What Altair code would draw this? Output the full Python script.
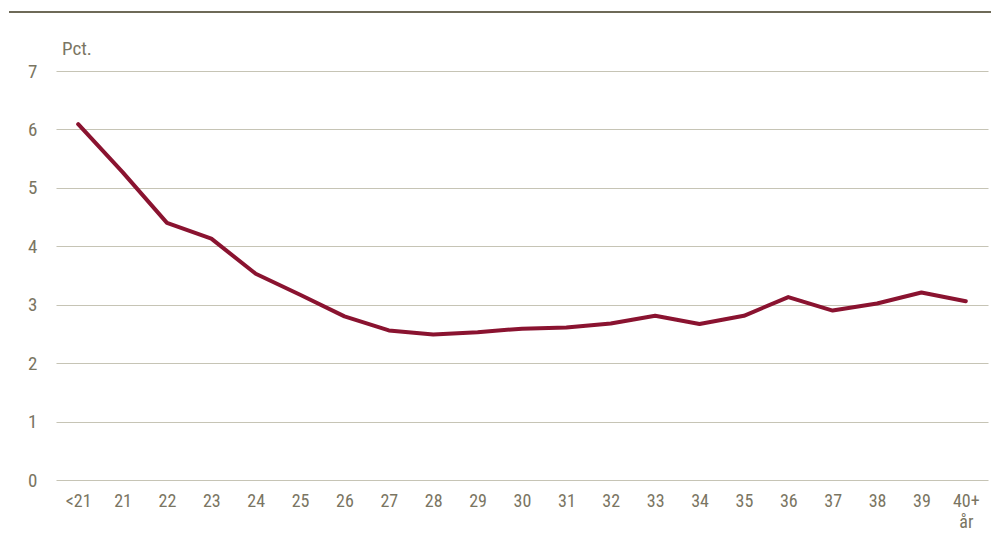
import altair as alt
import pandas as pd

ages = ["<21", "21", "22", "23", "24", "25", "26", "27", "28", "29",
        "30", "31", "32", "33", "34", "35", "36", "37", "38", "39", "40+"]
values = [6.09, 5.27, 4.40, 4.13, 3.53, 3.17, 2.80, 2.56, 2.49, 2.53,
          2.59, 2.61, 2.68, 2.81, 2.67, 2.81, 3.13, 2.90, 3.02, 3.21, 3.06]
y_ticks = [0, 1, 2, 3, 4, 5, 6, 7]
unit_label = "Pct."

df = pd.DataFrame({"age": ages, "value": values})

FONT = "'Liberation Sans Narrow', 'Roboto Condensed', 'DejaVu Sans Condensed', sans-serif"
TXT = "#7A7562"
FS = 19
W, H = 932, 409

line = alt.Chart(df).mark_line(color="#8A1330", strokeWidth=4, strokeJoin="round",
                               strokeCap="round").encode(
    x=alt.X("age:N", sort=ages, title=None,
            axis=alt.Axis(labelAngle=0, ticks=False, domain=False, grid=False,
                          labelFontSize=18, labelPadding=12, labelBaseline="top",
                          labelLineHeight=21,
                          labelExpr="datum.value == '40+' ? ['40+', 'år'] : datum.value")),
    y=alt.Y("value:Q", title=None, scale=alt.Scale(domain=[0, 7], nice=False),
            axis=alt.Axis(values=y_ticks, ticks=False, domain=False, grid=True,
                          labelPadding=19, gridColor="#C6C4B5", gridWidth=1.2)),
)

unit = alt.Chart(pd.DataFrame({"t": [unit_label]})).mark_text(
    align="left", baseline="alphabetic", fontSize=FS, font=FONT, color=TXT
).encode(text="t:N", x=alt.value(6), y=alt.value(-16))

top_rule = alt.Chart(pd.DataFrame({"a": [0]})).mark_rule(
    color="#6E6A58", strokeWidth=2
).encode(x=alt.value(-47), x2=alt.value(W + 3), y=alt.value(-59))

chart = alt.layer(top_rule, line, unit).properties(
    width=W, height=H,
    autosize=alt.AutoSizeParams(type="none"),
    padding={"left": 48, "top": 63, "right": 3, "bottom": 52},
).configure_view(stroke=None).configure_axis(
    labelFont=FONT, labelFontSize=FS, labelColor=TXT
)

chart.save("out.html", embed_options={"renderer": "svg", "actions": False})
